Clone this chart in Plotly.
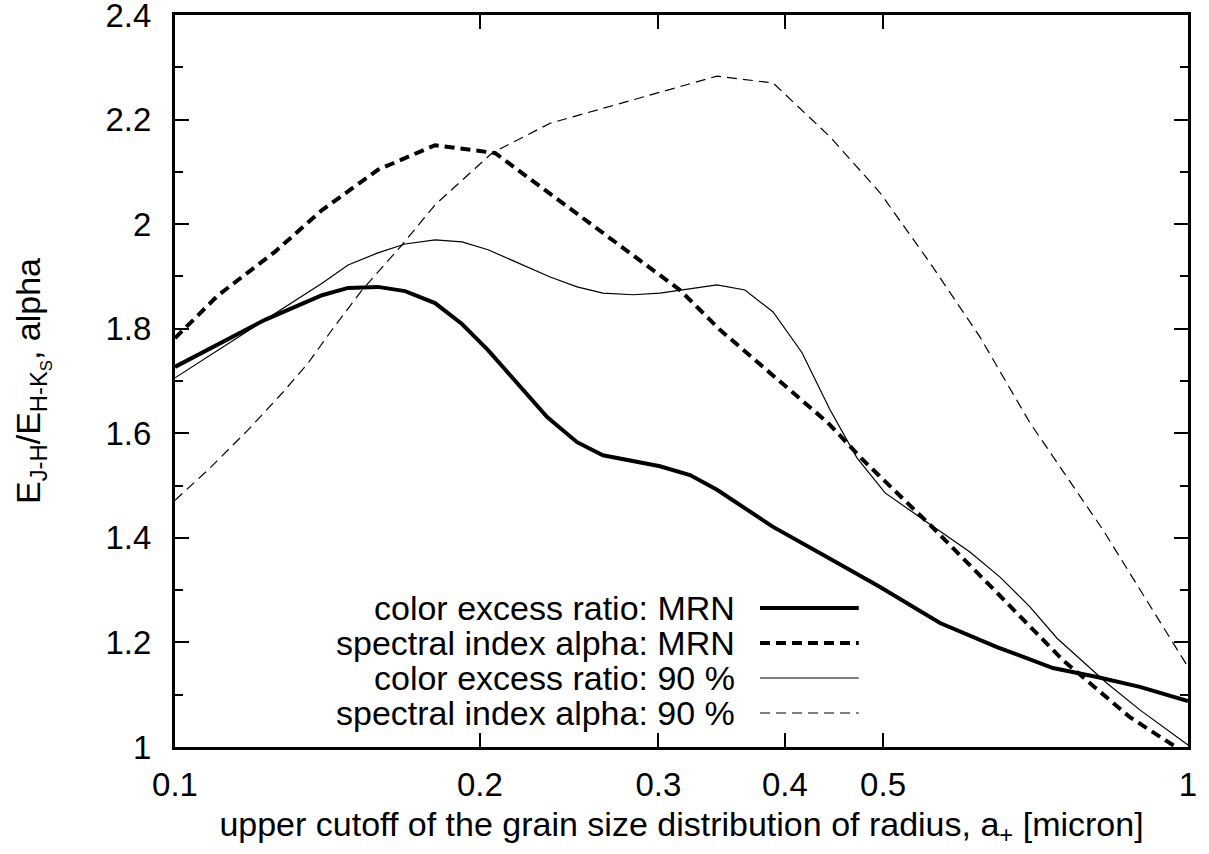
import plotly.graph_objects as go

# upper cutoff radius a+ (micron) and values
x_ce_mrn = [0.1, 0.1227, 0.1397, 0.1482, 0.1586, 0.1687, 0.1806, 0.1920, 0.2037, 0.2330,
            0.2494, 0.2645, 0.3011, 0.3224, 0.3428, 0.3894, 0.4432, 0.4966, 0.5691, 0.6478,
            0.7357, 0.8133, 0.8963, 1.0]
y_ce_mrn = [1.727, 1.817, 1.864, 1.878, 1.880, 1.872, 1.849, 1.809, 1.759, 1.631,
            1.583, 1.558, 1.537, 1.520, 1.492, 1.421, 1.360, 1.306, 1.237, 1.191,
            1.151, 1.134, 1.115, 1.088]

x_si_mrn = [0.1, 0.1103, 0.1255, 0.1397, 0.1586, 0.1806, 0.2070, 0.3151, 0.3451, 0.4412,
            0.4777, 0.5563, 0.6478, 0.7527, 0.8762, 0.9598, 1.0]
y_si_mrn = [1.782, 1.864, 1.947, 2.027, 2.104, 2.151, 2.136, 1.874, 1.798, 1.620,
            1.549, 1.425, 1.295, 1.166, 1.057, 1.008, 0.985]

x_ce_90 = [0.1, 0.1255, 0.1397, 0.1482, 0.1586, 0.1687, 0.1806, 0.1920, 0.2037, 0.2346,
           0.2494, 0.2645, 0.2833, 0.3011, 0.3151, 0.3428, 0.3653, 0.3894, 0.4159, 0.4432,
           0.4712, 0.5023, 0.5526, 0.6092, 0.6523, 0.6982, 0.7425, 0.8318, 0.8963, 0.9598,
           1.0]
y_ce_90 = [1.706, 1.830, 1.887, 1.922, 1.945, 1.962, 1.970, 1.966, 1.951, 1.899,
           1.880, 1.868, 1.865, 1.868, 1.874, 1.884, 1.874, 1.832, 1.754, 1.645,
           1.553, 1.486, 1.430, 1.373, 1.325, 1.268, 1.208, 1.122, 1.071, 1.029,
           1.004]

x_si_90 = [0.1, 0.1078, 0.1180, 0.1276, 0.1353, 0.1429, 0.1530, 0.1675, 0.1806, 0.2056,
           0.2346, 0.3428, 0.3894, 0.4432, 0.4966, 0.5563, 0.6233, 0.6982, 0.8244, 0.9598,
           1.0]
y_si_90 = [1.472, 1.530, 1.606, 1.677, 1.734, 1.798, 1.874, 1.960, 2.037, 2.136,
           2.193, 2.283, 2.270, 2.167, 2.060, 1.926, 1.784, 1.620, 1.415, 1.210,
           1.153]

legend_labels = ["color excess ratio: MRN", "spectral index alpha: MRN",
                 "color excess ratio: 90 %", "spectral index alpha: 90 %"]

x_tick_vals = [0.1, 0.2, 0.3, 0.4, 0.5, 1]
x_tick_text = ["0.1", "0.2", "0.3", "0.4", "0.5", "1"]
y_tick_vals = [1, 1.2, 1.4, 1.6, 1.8, 2, 2.2, 2.4]
y_tick_text = ["1", "1.2", "1.4", "1.6", "1.8", "2", "2.2", "2.4"]
y_minor_vals = [1.1, 1.3, 1.5, 1.7, 1.9, 2.1, 2.3]

FONT = "Liberation Sans, Arial, Helvetica, sans-serif"
FS_TICK = 33
FS_TEXT = 34

styles = [dict(width=4, dash="solid"),
          dict(width=4, dash="10px,6px"),
          dict(width=1.2, dash="solid"),
          dict(width=1.2, dash="10px,6px")]

fig = go.Figure()
series = [(x_ce_mrn, y_ce_mrn), (x_si_mrn, y_si_mrn), (x_ce_90, y_ce_90), (x_si_90, y_si_90)]
for (xs, ys), st, name in zip(series, styles, legend_labels):
    fig.add_trace(go.Scatter(x=xs, y=ys, mode="lines", name=name, showlegend=False,
                             hoverinfo="skip",
                             line=dict(color="black", width=st["width"], dash=st["dash"])))

# gnuplot-style key: text right-aligned, sample line to its right
key_y = [1.266, 1.199, 1.132, 1.065]
for lab, st, ky in zip(legend_labels, styles, key_y):
    fig.add_annotation(x=0.555, y=ky, xref="paper", yref="y", text=lab, showarrow=False,
                       xanchor="right", yanchor="middle",
                       font=dict(family=FONT, size=FS_TEXT, color="black"))
    fig.add_shape(type="line", xref="paper", yref="y", x0=0.5775, x1=0.675, y0=ky, y1=ky,
                  line=dict(color="black", width=st["width"], dash=st["dash"]))

fig.update_layout(
    width=1209, height=854,
    margin=dict(l=175, r=21, t=15, b=107, autoexpand=False),
    paper_bgcolor="white", plot_bgcolor="white",
    font=dict(family=FONT, size=FS_TICK, color="black"),
    showlegend=False,
)
fig.update_xaxes(type="log", range=[-1, 0], automargin=False,
                 tickvals=x_tick_vals, ticktext=x_tick_text,
                 ticks="inside", ticklen=14, tickwidth=2, tickcolor="black",
                 ticklabelstandoff=6, ticklabeloverflow="allow",
                 showline=True, linewidth=3, linecolor="black", mirror="allticks",
                 showgrid=False, zeroline=False,
                 tickfont=dict(family=FONT, size=FS_TICK, color="black"),
                 title=dict(text="upper cutoff of the grain size distribution of radius, a<sub>+</sub> [micron]",
                            font=dict(family=FONT, size=FS_TEXT, color="black"), standoff=11))
fig.update_yaxes(range=[1, 2.4], automargin=False,
                 tickvals=y_tick_vals, ticktext=y_tick_text,
                 ticks="inside", ticklen=14, tickwidth=2, tickcolor="black",
                 ticklabelstandoff=14, ticklabeloverflow="allow",
                 minor=dict(tickvals=y_minor_vals, ticks="inside",
                            ticklen=8, tickwidth=2, tickcolor="black"),
                 showline=True, linewidth=3, linecolor="black", mirror="allticks",
                 showgrid=False, zeroline=False,
                 tickfont=dict(family=FONT, size=FS_TICK, color="black"),
                 title=dict(text="E<sub>J-H</sub>/E<sub>H-K<sub>S</sub></sub>, alpha",
                            font=dict(family=FONT, size=FS_TEXT, color="black"), standoff=55))

# remove the default page margin so the figure sits at the window's top-left corner
fig.write_html("out.html", config={"displayModeBar": False},
               post_script="document.body.style.margin='0px';")
